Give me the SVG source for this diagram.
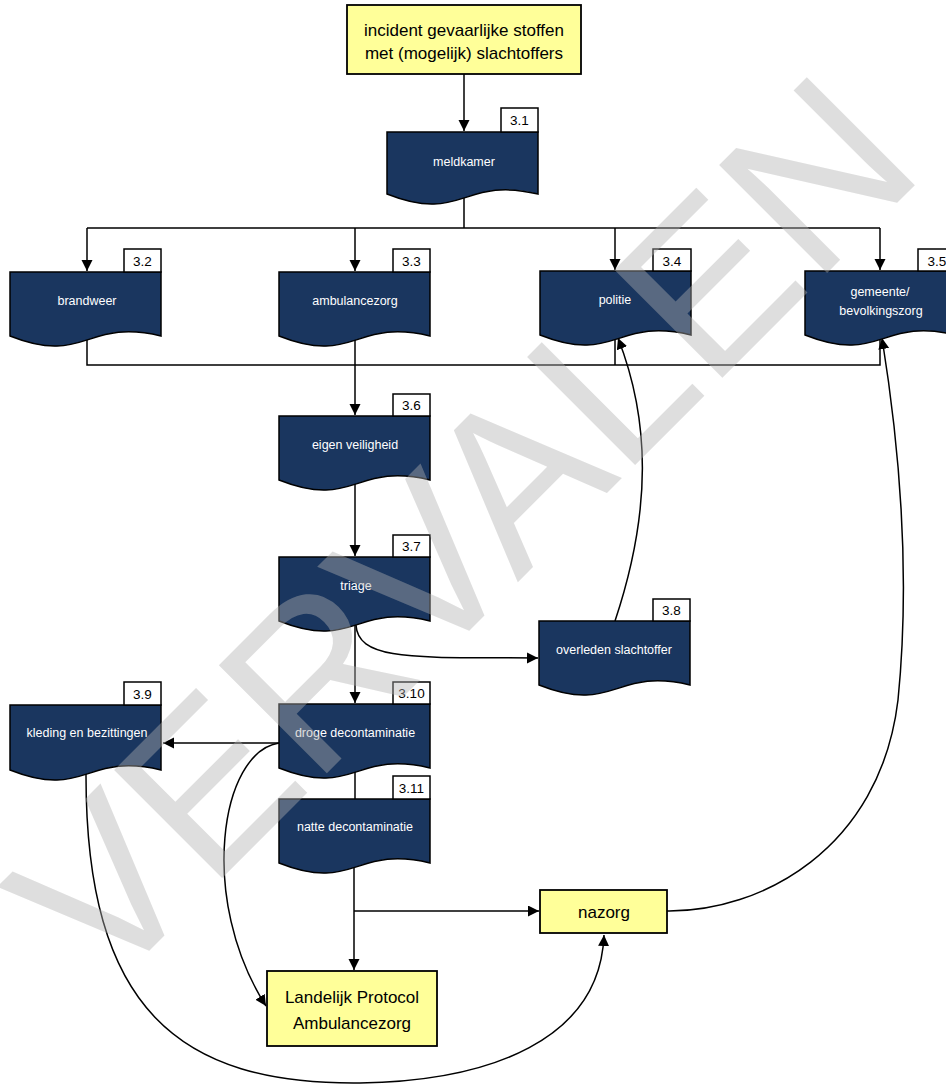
<svg xmlns="http://www.w3.org/2000/svg" width="946" height="1086" viewBox="0 0 946 1086">
<style>
.doc{fill:#1a365f;stroke:#000;stroke-width:1.5}
.tag{fill:#fff;stroke:#000;stroke-width:1.5}
.yel{fill:#ffff99;stroke:#000;stroke-width:1.8}
.lbl{font-family:"Liberation Sans",Arial,sans-serif;font-size:12.5px;fill:#fff;text-anchor:middle}
.tt{font-family:"Liberation Sans",Arial,sans-serif;font-size:13.5px;fill:#000;text-anchor:middle}
.yt{font-family:"Liberation Sans",Arial,sans-serif;font-size:17px;fill:#000;text-anchor:middle}
.c{fill:none;stroke:#000;stroke-width:1.5}
.wm{font-family:"Liberation Sans",Arial,sans-serif;font-size:222px;fill:#b0b0b0;fill-opacity:0.42;text-anchor:middle}
</style>
<defs>
<marker id="ah" markerUnits="userSpaceOnUse" markerWidth="12" markerHeight="12" refX="11" refY="5.5" orient="auto">
<path d="M0,0 L11,5.5 L0,11 Z" fill="#000"/>
</marker>
</defs>
<rect width="946" height="1086" fill="#fff"/>
<g id="connectors">
<path class="c" d="M464,74 V131" marker-end="url(#ah)"/>
<path class="c" d="M464,194 V228 M87,228 H880"/>
<path class="c" d="M87,228 V271" marker-end="url(#ah)"/>
<path class="c" d="M355,228 V271" marker-end="url(#ah)"/>
<path class="c" d="M615,228 V270" marker-end="url(#ah)"/>
<path class="c" d="M880,228 V270" marker-end="url(#ah)"/>
<path class="c" d="M87,336 V365 H880 V335 M615,335 V365"/>
<path class="c" d="M355,336 V415" marker-end="url(#ah)"/>
<path class="c" d="M355,480 V556" marker-end="url(#ah)"/>
<path class="c" d="M355,621 V703" marker-end="url(#ah)"/>
<path class="c" d="M356,625 C358,662 420,657 538,658" marker-end="url(#ah)"/>
<path class="c" d="M615,621 C652,510 650,420 618,338" marker-end="url(#ah)"/>
<path class="c" d="M279,743 H163" marker-end="url(#ah)"/>
<path class="c" d="M279,743 C220,752 198,900 266,1006" marker-end="url(#ah)"/>
<path class="c" d="M355,768 V799"/>
<path class="c" d="M354,863 V970" marker-end="url(#ah)"/>
<path class="c" d="M354,911 H539" marker-end="url(#ah)"/>
<path class="c" d="M667,911 C760,912 880,850 898,700 C910,580 900,450 882,338" marker-end="url(#ah)"/>
<path class="c" d="M86,772 C85,1010 180,1085 360,1083 C490,1081 600,1040 604,935" marker-end="url(#ah)"/>
</g>
<g id="incident">
<rect class="yel" x="347" y="5" width="234" height="69"/>
<text class="yt" x="464" y="36">incident gevaarlijke stoffen</text>
<text class="yt" x="464" y="59">met (mogelijk) slachtoffers</text>
</g>
<g id="n31">
<path class="doc" d="M387,132 H538 V194 C462.5,176 462.5,224 387,194 Z"/>
<rect class="tag" x="501" y="108" width="37" height="24"/>
<text class="tt" x="519.5" y="125">3.1</text>
<text class="lbl" x="464" y="166">meldkamer</text>
</g>
<g id="n32">
<path class="doc" d="M10,272 H161 V336 C85.5,318 85.5,366 10,336 Z"/>
<rect class="tag" x="124" y="249" width="37" height="23"/>
<text class="tt" x="142.5" y="266">3.2</text>
<text class="lbl" x="87" y="305">brandweer</text>
</g>
<g id="n33">
<path class="doc" d="M279,272 H430 V336 C354.5,318 354.5,366 279,336 Z"/>
<rect class="tag" x="393" y="249" width="37" height="23"/>
<text class="tt" x="411.5" y="266">3.3</text>
<text class="lbl" x="355" y="305">ambulancezorg</text>
</g>
<g id="n34">
<path class="doc" d="M540,271 H691 V335 C615.5,317 615.5,365 540,335 Z"/>
<rect class="tag" x="653" y="249" width="38" height="22"/>
<text class="tt" x="672" y="266">3.4</text>
<text class="lbl" x="615" y="304">politie</text>
</g>
<g id="n35">
<path class="doc" d="M805,271 H956 V335 C880.5,317 880.5,365 805,335 Z"/>
<rect class="tag" x="918" y="249" width="38" height="22"/>
<text class="tt" x="937" y="266">3.5</text>
<text class="lbl" x="880" y="296">gemeente/</text>
<text class="lbl" x="881" y="315">bevolkingszorg</text>
</g>
<g id="n36">
<path class="doc" d="M279,416 H430 V480 C354.5,462 354.5,510 279,480 Z"/>
<rect class="tag" x="393" y="394" width="37" height="22"/>
<text class="tt" x="411.5" y="410">3.6</text>
<text class="lbl" x="355" y="449">eigen veiligheid</text>
</g>
<g id="n37">
<path class="doc" d="M279,557 H430 V621 C354.5,603 354.5,651 279,621 Z"/>
<rect class="tag" x="393" y="535" width="37" height="22"/>
<text class="tt" x="411.5" y="551">3.7</text>
<text class="lbl" x="356" y="590">triage</text>
</g>
<g id="n38">
<path class="doc" d="M539,621 H690 V685 C614.5,667 614.5,715 539,685 Z"/>
<rect class="tag" x="653" y="599" width="37" height="22"/>
<text class="tt" x="671.5" y="615">3.8</text>
<text class="lbl" x="614" y="654">overleden slachtoffer</text>
</g>
<g id="n39">
<path class="doc" d="M10,705 H161 V770 C85.5,752 85.5,800 10,770 Z"/>
<rect class="tag" x="124" y="682" width="37" height="23"/>
<text class="tt" x="142.5" y="699">3.9</text>
<text class="lbl" x="87" y="737">kleding en bezittingen</text>
</g>
<g id="n310">
<path class="doc" d="M279,704 H430 V768 C354.5,750 354.5,798 279,768 Z"/>
<rect class="tag" x="393" y="682" width="37" height="22"/>
<text class="tt" x="411.5" y="698">3.10</text>
<text class="lbl" x="355" y="737">droge decontaminatie</text>
</g>
<g id="n311">
<path class="doc" d="M279,799 H430 V863 C354.5,845 354.5,893 279,863 Z"/>
<rect class="tag" x="393" y="776" width="37" height="23"/>
<text class="tt" x="411.5" y="793">3.11</text>
<text class="lbl" x="355" y="831">natte decontaminatie</text>
</g>
<g id="nazorg">
<rect class="yel" x="540" y="890" width="127" height="43"/>
<text class="yt" x="604" y="918">nazorg</text>
</g>
<g id="lpa">
<rect class="yel" x="267" y="971" width="170" height="75"/>
<text class="yt" x="352" y="1003">Landelijk Protocol</text>
<text class="yt" x="352" y="1029">Ambulancezorg</text>
</g>
<text class="wm" x="516" y="584" transform="rotate(-45 516 584)">VERVALEN</text>
</svg>
